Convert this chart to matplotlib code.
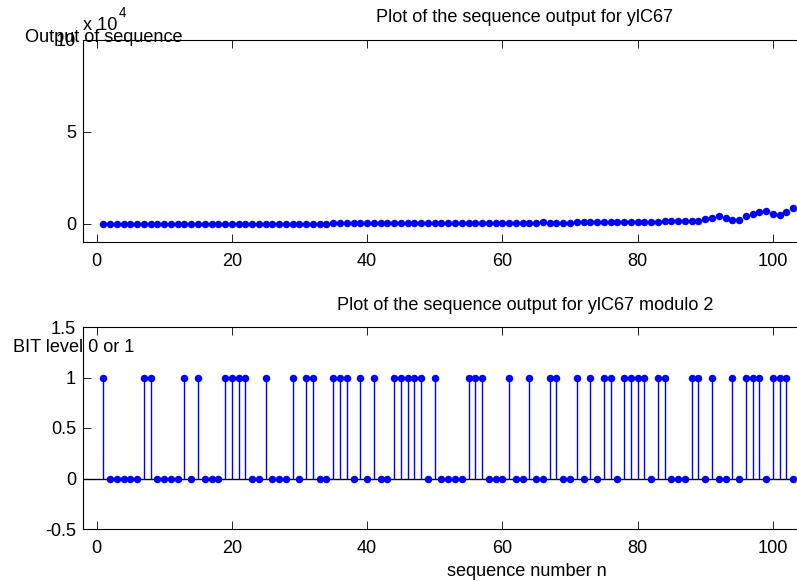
import matplotlib
matplotlib.use("Agg")
import matplotlib.pyplot as plt
import numpy as np

plt.rcParams['font.family'] = ['Liberation Sans', 'DejaVu Sans']

# sequence index n
n = list(range(1, 104))

# sequence output values
values = [1, 2, 2, 4, 4, 6, 7, 9, 10, 12,
          12, 14, 17, 18, 21, 22, 24, 26, 29, 31,
          33, 35, 38, 40, 43, 46, 48, 52, 55, 58,
          61, 65, 68, 72, 75, 79, 83, 86, 91, 94,
          99, 104, 108, 113, 117, 123, 127, 133, 138, 145,
          150, 156, 162, 168, 175, 181, 189, 196, 204, 212,
          221, 230, 240, 251, 262, 980, 283, 295, 308, 330,
          621, 640, 655, 670, 687, 701, 716, 733, 749, 765,
          781, 798, 815, 1421, 1440, 1462, 1484, 1505, 1527, 2310,
          3105, 3960, 3050, 2003, 2208, 3937, 5283, 6121, 6880, 5337,
          4677, 6285, 8466]

# bit levels
bits = [1, 0, 0, 0, 0, 0, 1, 1, 0, 0,
        0, 0, 1, 0, 1, 0, 0, 0, 1, 1,
        1, 1, 0, 0, 1, 0, 0, 0, 1, 0,
        1, 1, 0, 0, 1, 1, 1, 0, 1, 0,
        1, 0, 0, 1, 1, 1, 1, 1, 0, 1,
        0, 0, 0, 0, 1, 1, 1, 0, 0, 0,
        1, 0, 0, 1, 0, 0, 1, 1, 0, 0,
        1, 0, 1, 0, 1, 1, 0, 1, 1, 1,
        1, 0, 1, 1, 0, 0, 0, 1, 1, 0,
        1, 0, 0, 1, 0, 1, 1, 1, 0, 1,
        1, 1, 0]

title_top = "Plot of the sequence output for ylC67"
title_bot = "Plot of the sequence output for ylC67 modulo 2"
ylabel_top = "Output of sequence"
ylabel_bot = "BIT level 0 or 1"
xlabel_bot = "sequence number n"
xticks = [0, 20, 40, 60, 80, 100]
yticks_top = [0, 50000, 100000]
yticklabels_top = ["0", "5", "10"]
yticks_bot = [-0.5, 0, 0.5, 1, 1.5]
yticklabels_bot = ["-0.5", "0", "0.5", "1", "1.5"]

W, H = 797, 581
fig = plt.figure(figsize=(W / 100, H / 100), dpi=100)

left = 83 / W
width = (967 - 83) / W
ax1 = fig.add_axes([left, 1 - 242 / H, width, 202 / H])
ax2 = fig.add_axes([left, 1 - 529 / H, width, 202 / H])

blue = (0, 0, 1)
fs = 13.1

for ax in (ax1, ax2):
    ax.set_xlim(-2, 128.7)
    ax.set_xticks(xticks)
    ax.tick_params(direction='in', length=6, width=0.6, top=True, right=True,
                   labelsize=fs, pad=5, colors='black')
    ax.tick_params(axis='x', pad=8)
    for s in ax.spines.values():
        s.set_linewidth(0.8)

ax1.plot(n, values, linestyle='none', marker='o', markersize=5.4,
         color=blue, markeredgewidth=0)
ax1.set_ylim(-10000, 100000)
ax1.set_yticks(yticks_top)
ax1.set_yticklabels(yticklabels_top)

ax2.axhline(0, color='black', linewidth=1.0, zorder=1)
ax2.vlines(n, 0, bits, colors=[blue], linewidth=1.0, zorder=2)
ax2.plot(n, bits, linestyle='none', marker='o', markersize=5.4,
         color=blue, markeredgewidth=0, zorder=3)
ax2.set_ylim(-0.5, 1.5)
ax2.set_yticks(yticks_bot)
ax2.set_yticklabels(yticklabels_bot)

fig.text(525 / W, 1 - 17 / H, title_top, ha='center', va='center', fontsize=fs)
fig.text(525 / W, 1 - 305 / H, title_bot, ha='center', va='center', fontsize=fs)
fig.text(527 / W, 1 - 571 / H, xlabel_bot, ha='center', va='center', fontsize=fs)
fig.text(25 / W, 1 - 38 / H, ylabel_top, ha='left', va='center', fontsize=fs)
fig.text(13 / W, 1 - 347 / H, ylabel_bot, ha='left', va='center', fontsize=fs)
fig.text(83 / W, 1 - 26 / H, "x 10", ha='left', va='center', fontsize=fs)
fig.text(119 / W, 1 - 13 / H, "4", ha='left', va='center', fontsize=fs * 0.75)

fig.savefig("out.png", dpi=100)
